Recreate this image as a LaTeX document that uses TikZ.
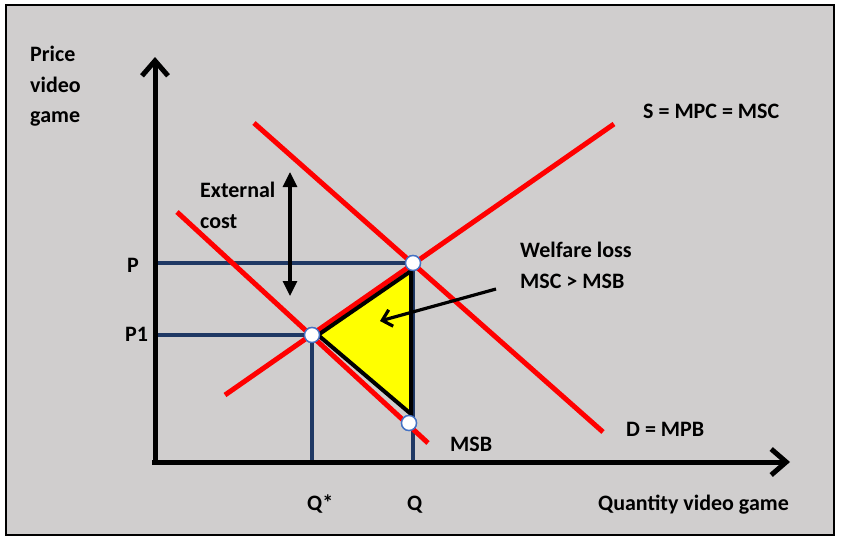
\documentclass[tikz,border=0pt]{standalone}
\usepackage{fontspec}
\setmainfont{Carlito}
\usetikzlibrary{arrows.meta}
\usetikzlibrary{positioning}
\definecolor{mgray}{HTML}{D0CECE}
\definecolor{mred}{HTML}{FF0000}
\definecolor{mnavy}{HTML}{1F3864}
\definecolor{mblue}{HTML}{4472C4}
\definecolor{myellow}{HTML}{FFFF00}

\begin{document}
\begin{tikzpicture}[x=1pt, y=-1pt,
    txt/.style={anchor=base west, inner sep=0pt, font=\fontsize{22}{26}\selectfont\bfseries},
    curve/.style={mred, line width=5pt},
    guide/.style={mnavy, line width=3.4pt},
    axis/.style={line width=5pt, -{Straight Barb[length=15pt, width=26pt]}},
    dot/.style={circle, draw=mblue, fill=white, line width=1.4pt, minimum size=15pt, inner sep=0pt}]
      \useasboundingbox (0, 0) rectangle (842, 544);
      \draw [fill=mgray, line width=2.2pt] (6, 5) rectangle (834, 535);

      % points of the diagram
      \coordinate (O) at (155, 462);
      \coordinate (ytip) at (155, 57);
      \coordinate (xtip) at (790, 462);
      \coordinate (Ps) at (157, 263);
      \coordinate (P1s) at (157, 335);
      \coordinate (Qs) at (312, 462);
      \coordinate (Qq) at (413, 462);
      \coordinate (S1) at (225, 395);
      \coordinate (S2) at (614, 124);
      \coordinate (D1) at (254, 123);
      \coordinate (D2) at (603, 432);
      \coordinate (M1) at (177, 212);
      \coordinate (M2) at (428, 443);

      % guide lines
      \node [dot] (E) at (413, 263) {};
      \node [dot] (Estar) at (312, 335) {};
      \node [dot] (Eq) at (409, 423) {};
      \draw [guide] (Ps) -- (E.center);
      \draw [guide] (P1s) -- (Estar.center);
      \draw [guide] (Estar.center) -- (Qs);
      \draw [guide] (E.center) -- (Qq);

      % curves
      \draw [curve] (S1) -- (S2);
      \draw [curve] (D1) -- (D2);
      \draw [curve] (M1) -- (M2);

      % welfare loss
      \draw [fill=myellow, line width=4pt, line join=miter] (318, 335) -- (411, 271) -- (411, 414) -- cycle;

      % axes
      \draw [axis] (O) -- (ytip);
      \draw [axis] (152, 462) -- (xtip);

      \node [dot] at (E) {};
      \node [dot] at (Estar) {};
      \node [dot] at (Eq) {};

      % arrows
      \coordinate (ec1) at (290, 172);
      \coordinate (ec2) at (290, 296);
      \draw [line width=3.2pt, {Triangle[length=15pt, width=14pt]}-{Triangle[length=15pt, width=14pt]}] (ec1) -- (ec2);
      \coordinate (wl1) at (496, 289);
      \coordinate (wl2) at (380, 321);
      \draw [line width=3.2pt, -{Straight Barb[length=9pt, width=17pt]}] (wl1) -- (wl2);

      % labels
      \node [txt] (price) at (30, 61) {Price};
      \node [txt] (video) at (30, 92) {video};
      \node [txt] (game) at (30, 122) {game};
      \node [txt] (ext) at (200, 197) {External};
      \node [txt] (cost) at (200, 228) {cost};
      \node [txt] (plab) at (127, 272) {P};
      \node [txt] (p1lab) at (125, 341) {P1};
      \node [txt] (smsc) at (643, 118) {S = MPC = MSC};
      \node [txt] (wloss) at (520, 257) {Welfare loss};
      \node [txt] (mscmsb) at (520, 288) {MSC > MSB};
      \node [txt] (dmpb) at (626, 436) {D = MPB};
      \node [txt] (msb) at (450, 451) {MSB};
      \node [txt] (qstar) at (307, 510) {Q*};
      \node [txt] (qlab) at (407, 510) {Q};
      \node [txt] (qvg) at (598, 510) {Quantity video game};
    \end{tikzpicture}
\end{document}
